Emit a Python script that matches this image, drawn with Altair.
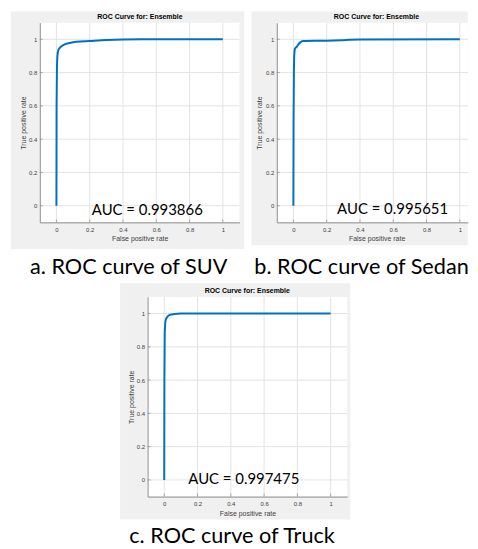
import altair as alt
import pandas as pd

# ---------------- data ----------------
title_text = "ROC Curve for: Ensemble"
captions = ["a. ROC curve of SUV", "b. ROC curve of Sedan", "c. ROC curve of Truck"]
auc_labels = ["AUC = 0.993866", "AUC = 0.995651", "AUC = 0.997475"]
auc_x = [0.546, 0.596, 0.478]
auc_y = [-0.025, -0.018, 0.005]
tick_values = [0, 0.2, 0.4, 0.6, 0.8, 1.0]

suv_fpr = [0, 0.001, 0.003, 0.006, 0.01, 0.02, 0.03, 0.05, 0.08, 0.12, 0.2, 0.3, 0.4, 0.6, 1.0]
suv_tpr = [0, 0.6, 0.82, 0.9, 0.93, 0.948, 0.958, 0.97, 0.978, 0.985, 0.99, 0.996, 0.999, 1.0, 1.0]

sedan_fpr = [0, 0.001, 0.003, 0.006, 0.01, 0.02, 0.03, 0.045, 0.06, 0.2, 0.3, 0.4, 1.0]
sedan_tpr = [0, 0.5, 0.8, 0.92, 0.945, 0.955, 0.97, 0.985, 0.99, 0.992, 0.995, 0.999, 1.0]

truck_fpr = [0, 0.001, 0.003, 0.006, 0.01, 0.02, 0.035, 0.06, 0.1, 1.0]
truck_tpr = [0, 0.6, 0.88, 0.94, 0.965, 0.982, 0.992, 0.997, 1.0, 1.0]

# ---------------- layout (pixels, relative to each plot area) ----------------
H = 201
layout = [
    dict(w=201, xmax=1.1, gx0=-29.2, gx1=205.8, gy0=-11.3, gy1=227.7, tx=100.8, ty=-5.3,
         cx=89.5, cy=246, xty=16.4, ytx=-16.2),
    dict(w=192.3, xmax=1.048, gx0=-25.4, gx1=192.3, gy0=-11.3, gy1=224, tx=100.3, ty=-5.3,
         cx=85.3, cy=246, xty=16.3, ytx=-17),
    dict(w=201, xmax=1.1, gx0=-27.7, gx1=204, gy0=-13.7, gy1=224, tx=100.3, ty=-6,
         cx=85, cy=240.6, xty=17, ytx=-16.5),
]

SMALL_FONT = "Liberation Sans"
BIG_FONT = "Lato"
GRAY = "#f0f0f0"
GRID = "#e3e3e3"
AXIS = "#8c8c8c"
LABEL = "#404040"
BLUE = "#0072BD"


def panel(fpr, tpr, auc_label, ax, ay, caption, L):
    W = L["w"]
    one = alt.Data(values=[{"k": 0}])
    xs = alt.Scale(domain=[-0.1, L["xmax"]], nice=False, zero=False)
    ys = alt.Scale(domain=[-0.1, 1.1], nice=False, zero=False)
    xaxis = alt.Axis(values=tick_values, format="~g", grid=False, ticks=False, tickSize=0,
                     domainColor=AXIS, domainWidth=1, labelFont=SMALL_FONT, labelFontSize=6,
                     labelColor=LABEL, labelPadding=4, labelFlush=False,
                     title="False positive rate", titleFont=SMALL_FONT, titleFontSize=7,
                     titleFontWeight="normal", titleColor=LABEL, titleX=100.5, titleY=L["xty"],
                     titleBaseline="middle", zindex=1)
    yaxis = alt.Axis(values=tick_values, format="~g", grid=False, ticks=False, tickSize=0,
                     domainColor=AXIS, domainWidth=1, labelFont=SMALL_FONT, labelFontSize=6,
                     labelColor=LABEL, labelPadding=3, labelFlush=False,
                     title="True positive rate", titleFont=SMALL_FONT, titleFontSize=7,
                     titleFontWeight="normal", titleColor=LABEL, titleX=L["ytx"], titleY=H / 2,
                     titleAngle=270, titleBaseline="middle", zindex=1)

    gray = alt.Chart(one).mark_rect(color=GRAY).encode(
        x=alt.value(L["gx0"]), x2=alt.value(L["gx1"]), y=alt.value(L["gy0"]), y2=alt.value(L["gy1"]))
    white = alt.Chart(one).mark_rect(color="white").encode(
        x=alt.value(0), x2=alt.value(W), y=alt.value(0), y2=alt.value(H))
    ticks_df = pd.DataFrame({"t": tick_values})
    grid_x = alt.Chart(ticks_df).mark_rule(color=GRID, strokeWidth=1).encode(
        x=alt.X("t:Q", scale=xs, axis=xaxis))
    grid_y = alt.Chart(ticks_df).mark_rule(color=GRID, strokeWidth=1).encode(
        y=alt.Y("t:Q", scale=ys, axis=yaxis))
    tick_x = alt.Chart(ticks_df).mark_tick(color=AXIS, thickness=1, size=3).encode(
        x=alt.X("t:Q", scale=xs, axis=xaxis), y=alt.value(H - 1.5))
    tick_y = alt.Chart(ticks_df).mark_tick(color=AXIS, thickness=1, size=3).encode(
        y=alt.Y("t:Q", scale=ys, axis=yaxis), x=alt.value(1.5))
    curve = alt.Chart(pd.DataFrame({"fpr": fpr, "tpr": tpr})).mark_line(
        color=BLUE, strokeWidth=2, interpolate="monotone").encode(
        x=alt.X("fpr:Q", scale=xs, axis=xaxis), y=alt.Y("tpr:Q", scale=ys, axis=yaxis))
    auc = alt.Chart(pd.DataFrame({"ax": [ax], "ay": [ay], "label": [auc_label]})).mark_text(
        font=BIG_FONT, fontSize=15, color="black", align="center", baseline="middle").encode(
        x=alt.X("ax:Q", scale=xs, axis=xaxis), y=alt.Y("ay:Q", scale=ys, axis=yaxis), text="label:N")
    ttl = alt.Chart(one).mark_text(
        font=SMALL_FONT, fontSize=7, fontWeight="bold", color="black", align="center",
        baseline="middle", text=title_text).encode(x=alt.value(L["tx"]), y=alt.value(L["ty"]))
    cap = alt.Chart(one).mark_text(
        font=BIG_FONT, fontSize=21.8, color="black", align="center", baseline="middle",
        text=caption).encode(x=alt.value(L["cx"]), y=alt.value(L["cy"]))
    return alt.layer(gray, white, grid_x, grid_y, tick_x, tick_y, curve, auc, ttl, cap).properties(
        width=W, height=H)


a = panel(suv_fpr, suv_tpr, auc_labels[0], auc_x[0], auc_y[0], captions[0], layout[0])
b = panel(sedan_fpr, sedan_tpr, auc_labels[1], auc_x[1], auc_y[1], captions[1], layout[1])
c = panel(truck_fpr, truck_tpr, auc_labels[2], auc_x[2], auc_y[2], captions[2], layout[2])

spacer = alt.Chart(alt.Data(values=[{"k": 0}])).mark_point(opacity=0, size=1).encode(
    x=alt.value(0), y=alt.value(0)).properties(width=100, height=1)

row1 = alt.hconcat(a, b, spacing=37.5, bounds="flush")
row2 = alt.hconcat(spacer, c, spacing=8.5, bounds="flush")
chart = alt.vconcat(row1, row2, spacing=2).properties(
    padding={"left": 2, "top": 1, "right": 0, "bottom": 0}
).configure_view(stroke="transparent")

chart.save("out.html", embed_options={"renderer": "svg", "actions": False})
